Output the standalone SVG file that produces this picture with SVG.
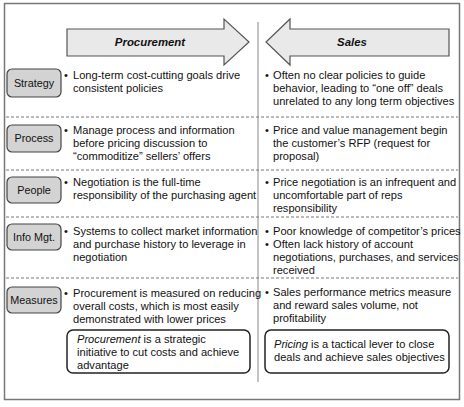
<svg xmlns="http://www.w3.org/2000/svg" width="464" height="407" viewBox="0 0 464 407">
<style>
text{font-family:"Liberation Sans",Arial,Helvetica,sans-serif;font-size:11.1px;fill:#111}
.hdr{font-weight:bold;font-style:italic;font-size:11.4px;text-anchor:middle}
.lbl{text-anchor:middle;font-size:10.8px}
.arrow{fill:#e9e9e9;stroke:#555;stroke-width:1.2}
.tag{fill:#d3d3d3;stroke:#444;stroke-width:1.2}
.note{fill:#fff;stroke:#222;stroke-width:1.5}
.dash{stroke:#777;stroke-width:1;stroke-dasharray:3 2;fill:none}
</style>
<rect x="4.5" y="3.5" width="455" height="396" fill="#fff" stroke="#777" stroke-width="1.5"/>
<g id="connectors">
<line x1="258" y1="22" x2="258" y2="382" stroke="#888" stroke-width="1"/>
<line class="dash" x1="6" y1="117" x2="458" y2="117"/>
<line class="dash" x1="6" y1="170" x2="458" y2="170"/>
<line class="dash" x1="6" y1="217" x2="458" y2="217"/>
<line class="dash" x1="6" y1="278" x2="458" y2="278"/>
</g>
<g id="procurement-arrow">
<polygon class="arrow" points="67,29 224,29 224,19 249,42 224,65 224,56 67,56"/>
<text class="hdr" x="150" y="46">Procurement</text>
</g>
<g id="sales-arrow">
<polygon class="arrow" points="449,29 290,29 290,19 266,42 290,65 290,56 449,56"/>
<text class="hdr" x="352" y="46">Sales</text>
</g>
<g id="strategy">
<rect class="tag" x="7" y="69" width="54" height="28" rx="5"/>
<text class="lbl" x="34" y="87">Strategy</text>
<text x="64" y="79">•</text>
<text x="73" y="79">Long-term cost-cutting goals drive</text>
<text x="73" y="92">consistent policies</text>
<text x="265" y="79">•</text>
<text x="273" y="79">Often no clear policies to guide</text>
<text x="273" y="92">behavior, leading to “one off” deals</text>
<text x="273" y="105">unrelated to any long term objectives</text>
</g>
<g id="process">
<rect class="tag" x="7" y="125" width="54" height="27" rx="5"/>
<text class="lbl" x="34" y="142">Process</text>
<text x="64" y="134">•</text>
<text x="73" y="134">Manage process and information</text>
<text x="73" y="147">before pricing discussion to</text>
<text x="73" y="160">“commoditize” sellers’ offers</text>
<text x="265" y="134">•</text>
<text x="273" y="134">Price and value management begin</text>
<text x="273" y="147">the customer’s RFP (request for</text>
<text x="273" y="160">proposal)</text>
</g>
<g id="people">
<rect class="tag" x="7" y="177" width="54" height="26" rx="5"/>
<text class="lbl" x="34" y="194">People</text>
<text x="64" y="186">•</text>
<text x="73" y="186">Negotiation is the full-time</text>
<text x="73" y="199">responsibility of the purchasing agent</text>
<text x="265" y="186">•</text>
<text x="273" y="186">Price negotiation is an infrequent and</text>
<text x="273" y="199">uncomfortable part of reps</text>
<text x="273" y="212">responsibility</text>
</g>
<g id="info-mgt">
<rect class="tag" x="7" y="224" width="54" height="26" rx="5"/>
<text class="lbl" x="34" y="241">Info Mgt.</text>
<text x="64" y="235">•</text>
<text x="73" y="235">Systems to collect market information</text>
<text x="73" y="248">and purchase history to leverage in</text>
<text x="73" y="261">negotiation</text>
<text x="265" y="235">•</text>
<text x="273" y="235">Poor knowledge of competitor’s prices</text>
<text x="265" y="248">•</text>
<text x="273" y="248">Often lack history of account</text>
<text x="273" y="261">negotiations, purchases, and services</text>
<text x="273" y="274">received</text>
</g>
<g id="measures">
<rect class="tag" x="7" y="287" width="54" height="26" rx="5"/>
<text class="lbl" x="34" y="304">Measures</text>
<text x="64" y="297">•</text>
<text x="73" y="297">Procurement is measured on reducing</text>
<text x="73" y="310">overall costs, which is most easily</text>
<text x="73" y="323">demonstrated with lower prices</text>
<text x="265" y="296">•</text>
<text x="273" y="296">Sales performance metrics measure</text>
<text x="273" y="309">and reward sales volume, not</text>
<text x="273" y="322">profitability</text>
</g>
<g id="procurement-note">
<rect class="note" x="67" y="330" width="183" height="43" rx="6"/>
<text x="77" y="343"><tspan font-style="italic">Procurement</tspan> is a strategic</text>
<text x="77" y="356">initiative to cut costs and achieve</text>
<text x="77" y="369">advantage</text>
</g>
<g id="sales-note">
<rect class="note" x="265" y="330" width="184" height="43" rx="6"/>
<text x="274" y="348"><tspan font-style="italic">Pricing</tspan> is a tactical lever to close</text>
<text x="274" y="361">deals and achieve sales objectives</text>
</g>
</svg>
